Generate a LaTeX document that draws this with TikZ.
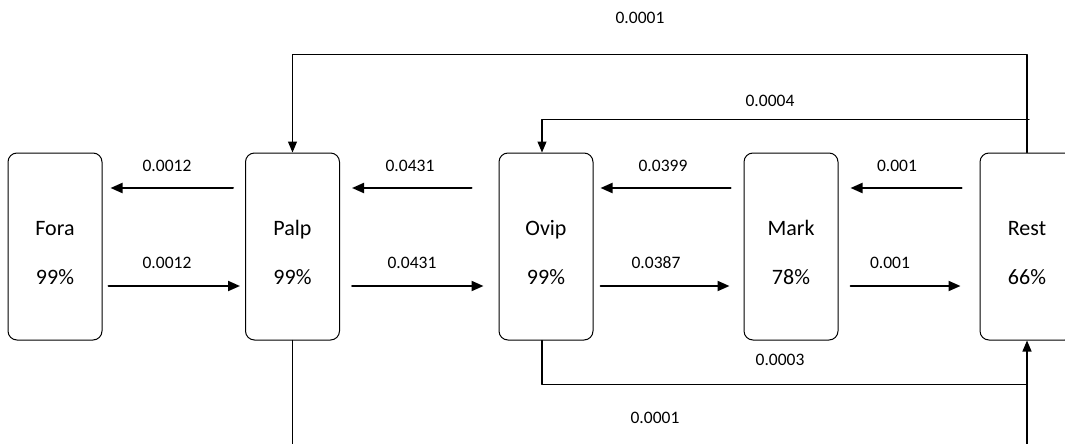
\documentclass[tikz,border=0pt]{standalone}
\usepackage{fontspec}
\setmainfont{Carlito}
\usetikzlibrary{arrows.meta}

\begin{document}
\begin{tikzpicture}[line cap=round,line join=round,x=1pt,y=-1pt,
  state/.style={draw,line width=1pt,rounded corners=9pt,minimum width=94pt,minimum height=187pt,inner sep=0pt},
  statetext/.style={font=\fontsize{22}{22}\selectfont,inner sep=0pt,anchor=base},
  rate/.style={font=\fontsize{17.5}{17.5}\selectfont,inner sep=0pt,anchor=base},
  flow/.style={line width=2pt,-{Triangle[length=12pt,width=10pt]}},
  link/.style={line width=1.2pt}]
\useasboundingbox (0,0) rectangle (1065,444);
\clip (0,0) rectangle (1065,444);
% states
\node[state] (fora) at (55,246.5) {};
\node[state] (palp) at (292.5,246.5) {};
\node[state] (ovip) at (546,246.5) {};
\node[state] (mark) at (791,246.5) {};
\node[state] (rest) at (1027,246.5) {};
\node[statetext] (foraN) at (55,235) {Fora};
\node[statetext] (foraP) at (55,284) {99\%};
\node[statetext] (palpN) at (292.5,235) {Palp};
\node[statetext] (palpP) at (292.5,284) {99\%};
\node[statetext] (ovipN) at (546,235) {Ovip};
\node[statetext] (ovipP) at (546,284) {99\%};
\node[statetext] (markN) at (791,235) {Mark};
\node[statetext] (markP) at (791,284) {78\%};
\node[statetext] (restN) at (1027,235) {Rest};
\node[statetext] (restP) at (1027,284) {66\%};
% neighbour transitions
\draw[flow,shorten <=12pt,shorten >=8pt] ([yshift=58.5pt]palp.west) -- ([yshift=58.5pt]fora.east);
\draw[flow,shorten <=6pt,shorten >=5pt] ([yshift=-39.5pt]fora.east) -- ([yshift=-39.5pt]palp.west);
\draw[flow,shorten <=27pt,shorten >=12pt] ([yshift=58.5pt]ovip.west) -- ([yshift=58.5pt]palp.east);
\draw[flow,shorten <=12pt,shorten >=15pt] ([yshift=-39.5pt]palp.east) -- ([yshift=-39.5pt]ovip.west);
\draw[flow,shorten <=13pt,shorten >=7pt] ([yshift=58.5pt]mark.west) -- ([yshift=58.5pt]ovip.east);
\draw[flow,shorten <=7pt,shorten >=14pt] ([yshift=-39.5pt]ovip.east) -- ([yshift=-39.5pt]mark.west);
\draw[flow,shorten <=18pt,shorten >=12pt] ([yshift=58.5pt]rest.west) -- ([yshift=58.5pt]mark.east);
\draw[flow,shorten <=12pt,shorten >=19pt] ([yshift=-39.5pt]mark.east) -- ([yshift=-39.5pt]rest.west);
\node[rate] (r1) at (167,171) {0.0012};
\node[rate] (r2) at (167,268.5) {0.0012};
\node[rate] (r3) at (410,171) {0.0431};
\node[rate] (r4) at (412,268.5) {0.0431};
\node[rate] (r5) at (663,171) {0.0399};
\node[rate] (r6) at (656,268.5) {0.0387};
\node[rate] (r7) at (897,171) {0.001};
\node[rate] (r8) at (890,268.5) {0.001};
% long jumps
\draw[link,-{Triangle[length=11pt,width=9pt]}] (rest.north) -- ([yshift=98pt]rest.north) -| (palp.north);
\draw[link,-{Triangle[length=11pt,width=9pt]}] ([xshift=2pt,yshift=33pt]rest.north) -| ([xshift=-4pt]ovip.north);
\draw[link] ([xshift=-4pt]ovip.south) |- ([yshift=-44pt]rest.south);
\draw[link,-{Triangle[length=11pt,width=9pt]}] (palp.south) -- ([yshift=-140pt]palp.south) -| (rest.south);
\node[rate] (r9) at (640,23.5) {0.0001};
\node[rate] (r10) at (770,106) {0.0004};
\node[rate] (r11) at (780,365.5) {0.0003};
\node[rate] (r12) at (655,423.5) {0.0001};
\end{tikzpicture}
\end{document}
